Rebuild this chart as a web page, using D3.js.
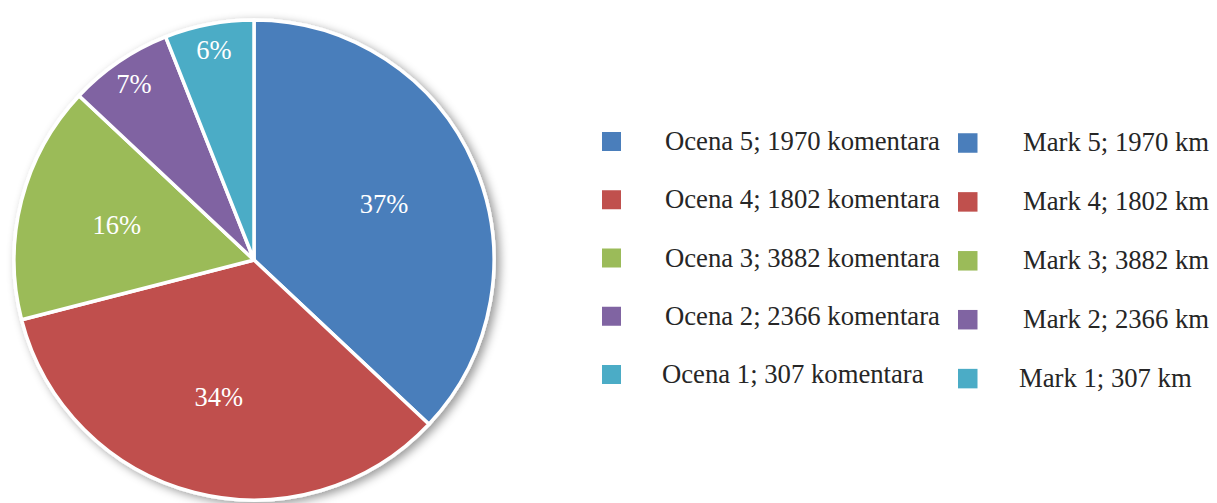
<!DOCTYPE html>
<html>
<head>
<meta charset="utf-8">
<script src="https://cdn.jsdelivr.net/npm/d3@7"></script>
<style>
  html, body { margin: 0; padding: 0; background: #ffffff; }
  svg { display: block; }
  text { font-family: "Liberation Serif", "Times New Roman", serif; }
</style>
</head>
<body>
<svg id="chart" width="1217" height="503"></svg>
<script>
// Ratings (grade 5 down to 1), their share of all comments, and the counts shown in the legend
const grades = ["5", "4", "3", "2", "1"];
const shares = [37, 34, 16, 7, 6];
const commentCounts = [1970, 1802, 3882, 2366, 307];
const sliceColors = ["#4a7ebb", "#c0504d", "#9bbb59", "#8064a2", "#4bacc6"];

const localLabels = grades.map((g, i) => `Ocena ${g}; ${commentCounts[i]} komentara`);
const englishLabels = grades.map((g, i) => `Mark ${g}; ${commentCounts[i]} km`);

const svg = d3.select("#chart");

// soft shadow under the pie
const defs = svg.append("defs");
const shadow = defs.append("filter")
  .attr("id", "pieShadow")
  .attr("x", "-20%").attr("y", "-20%")
  .attr("width", "140%").attr("height", "140%");
shadow.append("feDropShadow")
  .attr("dx", 4).attr("dy", 3)
  .attr("stdDeviation", 5)
  .attr("flood-color", "#000")
  .attr("flood-opacity", 0.4);

const cx = 254, cy = 260, radius = 240;

const data = grades.map((g, i) => ({ grade: g, share: shares[i], color: sliceColors[i] }));

const pie = d3.pie()
  .sort(null)
  .value(d => d.share);

const arc = d3.arc().innerRadius(0).outerRadius(radius);

const arcs = pie(data);
const total = d3.sum(shares);

const pieGroup = svg.append("g")
  .attr("transform", `translate(${cx},${cy})`);

pieGroup.append("g")
  .attr("filter", "url(#pieShadow)")
  .selectAll("path")
  .data(arcs)
  .join("path")
  .attr("d", arc)
  .attr("fill", d => d.data.color)
  .attr("stroke", "#ffffff")
  .attr("stroke-width", 3.5)
  .attr("stroke-linejoin", "round");

// percentage labels: large slices near the middle, thin slices near the rim
pieGroup.append("g")
  .selectAll("text")
  .data(arcs)
  .join("text")
  .attr("transform", d => {
    const frac = d.data.share / total;
    const r = frac >= 0.1 ? radius * 0.59 : radius * 0.89;
    const pos = d3.arc().innerRadius(r).outerRadius(r).centroid(d);
    return `translate(${pos[0]},${pos[1]})`;
  })
  .attr("text-anchor", "middle")
  .attr("dy", "0.35em")
  .attr("fill", "#ffffff")
  .attr("font-size", 26.5)
  .text(d => `${d.data.share}%`);

// two-column legend
const legendCols = [
  { labels: localLabels, boxX: 602, textX: 665, lastTextX: 662, y0: 141.5, step: 58.25, box: 19, base: 8.5 },
  { labels: englishLabels, boxX: 958, textX: 1023, lastTextX: 1019, y0: 143, step: 58.9, box: 19.5, base: 8 }
];

legendCols.forEach(col => {
  const g = svg.append("g");
  const rows = g.selectAll("g")
    .data(data)
    .join("g")
    .attr("transform", (d, i) => `translate(0,${col.y0 + i * col.step})`);

  rows.append("rect")
    .attr("x", col.boxX)
    .attr("y", -col.box / 2)
    .attr("width", col.box)
    .attr("height", col.box)
    .attr("fill", d => d.color);

  rows.append("text")
    .attr("x", (d, i) => i === data.length - 1 ? col.lastTextX : col.textX)
    .attr("y", col.base)
    .attr("fill", "#262626")
    .attr("font-size", 26.7)
    .text((d, i) => col.labels[i]);
});
</script>
</body>
</html>
